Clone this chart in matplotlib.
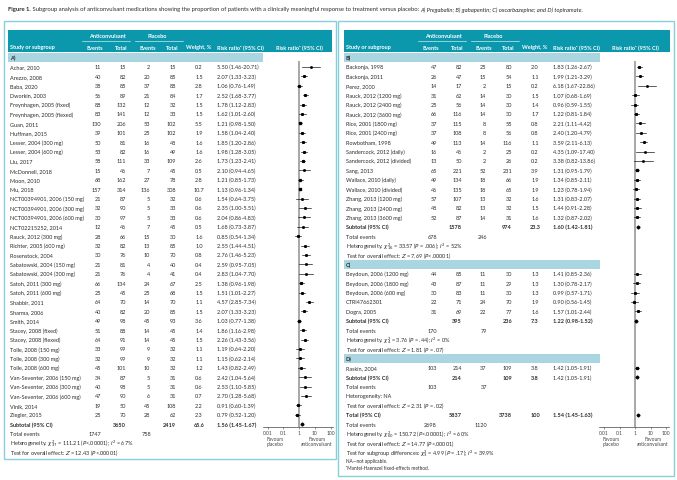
import matplotlib
matplotlib.use("Agg")
import matplotlib.pyplot as plt
from matplotlib.patches import Rectangle
from matplotlib.transforms import blended_transform_factory
import numpy as np

plt.rcParams['font.family'] = ['Lato', 'DejaVu Sans']
plt.rcParams['mathtext.fontset'] = 'dejavusans'

# ---------------- data ----------------
A_studies = ["Achar, 2010", "Arezzo, 2008", "Baba, 2020", "Dworkin, 2003",
             "Freynhagen, 2005 (fixed)", "Freynhagen, 2005 (flexed)", "Guan, 2011",
             "Huffman, 2015", "Lesser, 2004 (300 mg)", "Lesser, 2004 (600 mg)", "Liu, 2017",
             "McDonnell, 2018", "Moon, 2010", "Mu, 2018", "NCT00394901, 2006 (150 mg)",
             "NCT00394901, 2006 (300 mg)", "NCT00394901, 2006 (600 mg)", "NCT02215252, 2014",
             "Rauck, 2012 (300 mg)", "Richter, 2005 (600 mg)", "Rosenstock, 2004",
             "Sabatowski, 2004 (150 mg)", "Sabatowski, 2004 (300 mg)", "Satoh, 2011 (300 mg)",
             "Satoh, 2011 (600 mg)", "Shabbir, 2011", "Sharma, 2006", "Smith, 2014",
             "Stacey, 2008 (fixed)", "Stacey, 2008 (flexed)", "Tolle, 2008 (150 mg)",
             "Tolle, 2008 (300 mg)", "Tolle, 2008 (600 mg)", "Van-Seventer, 2006 (150 mg)",
             "Van-Seventer, 2006 (300 mg)", "Van-Seventer, 2006 (600 mg)", "Vinik, 2014",
             "Ziegler, 2015"]
A_ev_ac = [11, 40, 38, 56, 88, 83, 130, 39, 50, 53, 58, 15, 68, 157, 21, 32, 30, 12, 28, 32,
           30, 21, 21, 66, 25, 64, 40, 49, 51, 64, 33, 32, 45, 34, 40, 47, 19, 25]
A_tot_ac = [15, 82, 85, 89, 132, 141, 206, 101, 81, 82, 111, 46, 162, 314, 87, 90, 97, 46, 66, 82,
            76, 81, 76, 134, 45, 70, 82, 98, 88, 91, 99, 99, 101, 87, 98, 90, 50, 70]
A_ev_pl = [2, 20, 37, 21, 12, 12, 53, 25, 16, 16, 33, 7, 27, 136, 5, 5, 5, 7, 15, 13,
           10, 4, 4, 24, 25, 14, 20, 45, 14, 14, 9, 9, 10, 5, 5, 6, 45, 28]
A_tot_pl = [15, 85, 88, 84, 32, 33, 102, 102, 48, 49, 109, 45, 78, 308, 32, 33, 33, 45, 30, 85,
            70, 40, 41, 67, 68, 70, 85, 93, 45, 45, 32, 32, 32, 31, 31, 31, 108, 62]
A_weight = [0.2, 1.5, 2.8, 1.7, 1.5, 1.5, 5.5, 1.9, 1.6, 1.6, 2.6, 0.5, 2.8, 10.7, 0.6, 0.6, 0.6, 0.5, 1.6, 1.0,
            0.8, 0.4, 0.4, 2.5, 1.5, 1.1, 1.5, 3.6, 1.4, 1.5, 1.1, 1.1, 1.2, 0.6, 0.6, 0.7, 2.2, 2.3]
A_rr = [5.50, 2.07, 1.06, 2.52, 1.78, 1.62, 1.21, 1.58, 1.85, 1.98, 1.73, 2.10, 1.21, 1.13, 1.54, 2.35, 2.04, 1.68, 0.85, 2.55,
        2.76, 2.59, 2.83, 1.38, 1.51, 4.57, 2.07, 1.03, 1.86, 2.26, 1.19, 1.15, 1.43, 2.42, 2.53, 2.70, 0.91, 0.79]
A_lo = [1.46, 1.33, 0.76, 1.68, 1.12, 1.01, 0.98, 1.04, 1.20, 1.28, 1.23, 0.94, 0.85, 0.96, 0.64, 1.00, 0.86, 0.73, 0.54, 1.44,
        1.46, 0.95, 1.04, 0.96, 1.01, 2.85, 1.33, 0.77, 1.16, 1.43, 0.64, 0.62, 0.82, 1.04, 1.10, 1.28, 0.60, 0.52]
A_hi = [20.71, 3.23, 1.49, 3.77, 2.83, 2.60, 1.50, 2.40, 2.86, 3.05, 2.41, 4.65, 1.73, 1.34, 3.75, 5.51, 4.83, 3.87, 1.34, 4.51,
        5.23, 7.05, 7.70, 1.98, 2.27, 7.34, 3.23, 1.38, 2.98, 3.56, 2.20, 2.14, 2.49, 5.64, 5.85, 5.68, 1.39, 1.20]

B_studies = ["Backonja, 1998", "Backonja, 2011", "Perez, 2000", "Rauck, 2012 (1200 mg)",
             "Rauck, 2012 (2400 mg)", "Rauck, 2012 (3600 mg)", "Rice, 2001 (1800 mg)",
             "Rice, 2001 (2400 mg)", "Rowbotham, 1998", "Sandercock, 2012 (daily)",
             "Sandercock, 2012 (divided)", "Sang, 2013", "Wallace, 2010 (daily)",
             "Wallace, 2010 (divided)", "Zhang, 2013 (1200 mg)", "Zhang, 2013 (2400 mg)",
             "Zhang, 2013 (3600 mg)"]
B_ev_ac = [47, 26, 14, 31, 25, 66, 37, 37, 49, 16, 13, 65, 49, 46, 57, 48, 52]
B_tot_ac = [82, 47, 17, 62, 56, 116, 115, 108, 113, 46, 50, 221, 134, 135, 107, 82, 87]
B_ev_pl = [25, 15, 2, 14, 14, 14, 8, 8, 14, 2, 2, 52, 18, 18, 13, 13, 14]
B_tot_pl = [80, 54, 15, 30, 30, 30, 55, 56, 116, 25, 26, 231, 66, 65, 32, 32, 31]
B_weight = [2.0, 1.1, 0.2, 1.5, 1.4, 1.7, 0.8, 0.8, 1.1, 0.2, 0.2, 3.9, 1.9, 1.9, 1.6, 1.5, 1.6]
B_rr = [1.83, 1.99, 6.18, 1.07, 0.96, 1.22, 2.21, 2.40, 3.59, 4.35, 3.38, 1.31, 1.34, 1.23, 1.31, 1.44, 1.32]
B_lo = [1.26, 1.21, 1.67, 0.68, 0.59, 0.81, 1.11, 1.20, 2.11, 1.09, 0.82, 0.95, 0.85, 0.78, 0.83, 0.91, 0.87]
B_hi = [2.67, 3.29, 22.86, 1.69, 1.55, 1.84, 4.42, 4.79, 6.13, 17.40, 13.86, 1.79, 2.11, 1.94, 2.07, 2.28, 2.02]

C_studies = ["Beydoun, 2006 (1200 mg)", "Beydoun, 2006 (1800 mg)", "Beydoun, 2006 (600 mg)",
             "CTRI47662301", "Dogra, 2005"]
C_ev_ac = [44, 43, 30, 22, 31]
C_tot_ac = [85, 87, 83, 71, 69]
C_ev_pl = [11, 11, 11, 24, 22]
C_tot_pl = [30, 29, 30, 70, 77]
C_weight = [1.3, 1.3, 1.3, 1.9, 1.6]
C_rr = [1.41, 1.30, 0.99, 0.90, 1.57]
C_lo = [0.85, 0.78, 0.57, 0.56, 1.01]
C_hi = [2.36, 2.17, 1.71, 1.45, 2.44]

D_studies = ["Raskin, 2004"]
D_ev_ac = [103]
D_tot_ac = [214]
D_ev_pl = [37]
D_tot_pl = [109]
D_weight = [3.8]
D_rr = [1.42]
D_lo = [1.05]
D_hi = [1.91]

# subtotal: (tot_ac, tot_pl, weight, rr, lo, hi, events_ac, events_pl)
A_sub = [3650, 2419, 65.6, 1.56, 1.45, 1.67, 1747, 758]
B_sub = [1578, 974, 23.3, 1.60, 1.42, 1.81, 678, 246]
C_sub = [395, 236, 7.3, 1.22, 0.98, 1.52, 170, 79]
D_sub = [214, 109, 3.8, 1.42, 1.05, 1.91, 103, 37]
TOT = [5837, 3738, 100, 1.54, 1.45, 1.63, 2698, 1120]

A_het = r"Heterogeneity: $\chi^2_{37}$ = 111.21 ($P$<.00001); $I^2$ = 67%"
A_z = r"Test for overall effect: $Z$ = 12.43 ($P$<.00001)"
B_het = r"Heterogeneity: $\chi^2_{16}$ = 33.57 ($P$ = .006); $I^2$ = 52%"
B_z = r"Test for overall effect: $Z$ = 7.69 ($P$<.00001)"
C_het = r"Heterogeneity: $\chi^2_{4}$ = 3.76 ($P$ = .44); $I^2$ = 0%"
C_z = r"Test for overall effect: $Z$ = 1.81 ($P$ = .07)"
D_het = "Heterogeneity: NA"
D_z = r"Test for overall effect: $Z$ = 2.31 ($P$ = .02)"
T_het = r"Heterogeneity: $\chi^2_{60}$ = 150.72 ($P$<.00001); $I^2$ = 60%"
T_z = r"Test for overall effect: $Z$ = 14.77 ($P$<.00001)"
T_sub = r"Test for subgroup differences: $\chi^2_{3}$ = 4.99 ($P$ = .17); $I^2$ = 39.9%"

ticks = [0.01, 0.1, 1, 10, 100]
tick_labels = ["0.01", "0.1", "1", "10", "100"]

# ---------------- style ----------------
W, H = 677, 481
TEAL = "#0b98ad"
LIGHT = "#a9d6e1"
BORDER = "#86d0dc"
TXT = "#2b2b2b"
FS = 4.0
Y0 = 58.5
DY = 9.4

fig = plt.figure(figsize=(W / 100, H / 100), dpi=100)
bg = fig.add_axes([0, 0, 1, 1])
bg.set_xlim(0, W)
bg.set_ylim(H, 0)
bg.axis("off")


def ry(i):
    return Y0 + i * DY


def t(x, y, s, ha="left", bold=False, color=TXT, size=FS, italic=False):
    bg.text(x, y, s, ha=ha, va="center", fontsize=size, color=color,
            fontweight="bold" if bold else "normal",
            fontstyle="italic" if italic else "normal")


# title
fig.canvas.draw()
r = fig.canvas.get_renderer()
x = 8
for s, wgt, sty in [("Figure 1.", "bold", "normal"),
                    (" Subgroup analysis of anticonvulsant medications showing the proportion of patients with a clinically meaningful response to treatment versus placebo: ", "normal", "normal"),
                    ("A) Pregabalin; B) gabapentin; C) oxcarbazepine; and D) topiramate.", "normal", "italic")]:
    tt = bg.text(x, 10, s, ha="left", va="center", fontsize=4.2, fontweight=wgt, fontstyle=sty, color=TXT)
    bb = tt.get_window_extent(renderer=r)
    x += bb.width

# panel boxes
bg.add_patch(Rectangle((4, 22), 332, 438, fill=False, ec=BORDER, lw=1.0))
bg.add_patch(Rectangle((338, 22), 336, 455, fill=False, ec=BORDER, lw=1.0))


def header(off, right_edge, light_right):
    bg.add_patch(Rectangle((8 + off, 31), right_edge - 8 - off, 22, color=TEAL, lw=0))
    t(107 + off, 37, "Anticonvulsant", ha="center", bold=True, color="white")
    t(157 + off, 37, "Placebo", ha="center", bold=True, color="white")
    bg.plot([82 + off, 130 + off], [42, 42], color="white", lw=0.4)
    bg.plot([135 + off, 183 + off], [42, 42], color="white", lw=0.4)
    t(10 + off, 48, "Study or subgroup", bold=True, color="white")
    t(95 + off, 48, "Events", ha="center", bold=True, color="white")
    t(121 + off, 48, "Total", ha="center", bold=True, color="white")
    t(148 + off, 48, "Events", ha="center", bold=True, color="white")
    t(172 + off, 48, "Total", ha="center", bold=True, color="white")
    t(199 + off, 48, "Weight, %", ha="center", bold=True, color="white")
    t(217 + off, 48, "Risk ratio\u1d43 (95% CI)", bold=True, color="white")
    t(299 + off, 48, "Risk ratio\u1d43 (95% CI)", ha="center", bold=True, color="white")


def group_label(off, i, label, light_right):
    bg.add_patch(Rectangle((8 + off, ry(i) - 4.6), light_right - 8 - off, 9.2, color=LIGHT, lw=0))
    t(10 + off, ry(i), label, bold=True)


def study_rows(off, i0, names, eva, ta, evp, tp, wt, rr, lo, hi):
    for k in range(len(names)):
        y = ry(i0 + k)
        t(10 + off, y, names[k])
        t(101 + off, y, str(eva[k]), ha="right")
        t(126 + off, y, str(ta[k]), ha="right")
        t(150 + off, y, str(evp[k]), ha="right")
        t(176 + off, y, str(tp[k]), ha="right")
        t(199 + off, y, f"{wt[k]:.1f}", ha="center")
        t(217 + off, y, f"{rr[k]:.2f} ({lo[k]:.2f}-{hi[k]:.2f})")


def sub_rows(off, i, sub, het, z, label="Subtotal (95% CI)", rr_bold=True):
    y = ry(i)
    t(10 + off, y, label, bold=True)
    t(126 + off, y, str(sub[0]), ha="right", bold=True)
    t(176 + off, y, str(sub[1]), ha="right", bold=True)
    wtxt = f"{sub[2]:.1f}" if sub[2] != 100 else "100"
    t(199 + off, y, wtxt, ha="center", bold=True)
    t(217 + off, y, f"{sub[3]:.2f} ({sub[4]:.2f}-{sub[5]:.2f})", bold=rr_bold)
    t(10 + off, ry(i + 1), "Total events")
    t(101 + off, ry(i + 1), str(sub[6]), ha="right")
    t(151 + off, ry(i + 1), str(sub[7]), ha="right")
    t(10 + off, ry(i + 2), het)
    t(10 + off, ry(i + 3), z)


# ----- left panel (A) -----
OFF_L = 0
header(OFF_L, 332, 263)
group_label(OFF_L, 0, "A)", 263)
study_rows(OFF_L, 1, A_studies, A_ev_ac, A_tot_ac, A_ev_pl, A_tot_pl, A_weight, A_rr, A_lo, A_hi)
sub_rows(OFF_L, 39, A_sub, A_het, A_z)

# ----- right panel (B, C, D, total) -----
OFF_R = 336
header(OFF_R, 670, 600)
group_label(OFF_R, 0, "B)", 600)
study_rows(OFF_R, 1, B_studies, B_ev_ac, B_tot_ac, B_ev_pl, B_tot_pl, B_weight, B_rr, B_lo, B_hi)
sub_rows(OFF_R, 18, B_sub, B_het, B_z)
group_label(OFF_R, 22, "C)", 600)
study_rows(OFF_R, 23, C_studies, C_ev_ac, C_tot_ac, C_ev_pl, C_tot_pl, C_weight, C_rr, C_lo, C_hi)
sub_rows(OFF_R, 28, C_sub, C_het, C_z)
group_label(OFF_R, 32, "D)", 600)
study_rows(OFF_R, 33, D_studies, D_ev_ac, D_tot_ac, D_ev_pl, D_tot_pl, D_weight, D_rr, D_lo, D_hi)
sub_rows(OFF_R, 34, D_sub, D_het, D_z, rr_bold=False)
sub_rows(OFF_R, 38, TOT, T_het, T_z, label="Total (95% CI)")
t(10 + OFF_R, ry(42), T_sub)
t(10 + OFF_R, 461.5, "NA\u2014not applicable.", size=3.4)
t(10 + OFF_R, 468.5, "\u1d43Mantel-Haenszel fixed-effects method.", size=3.4)


# ----- forest plots -----
def forest(px_one, px_per_dec, rows_groups, subs):
    left_px, right_px = px_one - 36, px_one + 34
    top_px, bot_px = 62, 428
    ax = fig.add_axes([left_px / W, 1 - bot_px / H, (right_px - left_px) / W, (bot_px - top_px) / H])
    ax.set_xscale("log")
    ax.set_xlim(10 ** (-36 / px_per_dec), 10 ** (34 / px_per_dec))
    ax.set_ylim((bot_px - Y0) / DY, (top_px - Y0) / DY)
    ax.patch.set_alpha(0)
    for sp in ["top", "left", "right"]:
        ax.spines[sp].set_visible(False)
    ax.spines["bottom"].set_linewidth(0.5)
    ax.spines["bottom"].set_color("#444444")
    ax.set_yticks([])
    ax.set_xticks(ticks)
    ax.set_xticklabels(tick_labels)
    ax.xaxis.set_minor_locator(matplotlib.ticker.NullLocator())
    ax.tick_params(axis="x", labelsize=3.6, length=1.5, width=0.4, pad=1, colors="#444444")
    ax.axvline(1, color="#a0a0a0", lw=1.3, zorder=0)
    for i0, rr, lo, hi, wt in rows_groups:
        ys = np.arange(i0, i0 + len(rr))
        for y, a, b in zip(ys, lo, hi):
            ax.plot([a, b], [y, y], color="black", lw=0.45, clip_on=False)
        for y, v, w in zip(ys, rr, wt):
            ax.plot(v, y, marker="s", ms=0.8 + 0.3 * np.sqrt(w), color="black", clip_on=False)
    for i, sub in subs:
        ax.plot(sub[3], i, marker="D", ms=1.5, color="black", clip_on=False)
    tr = blended_transform_factory(ax.transData, ax.transAxes)
    ax.text(0.03, -0.025, "Favours\nplacebo", transform=tr, ha="center", va="top",
            fontsize=3.5, color="#444444", linespacing=0.9)
    ax.text(14, -0.025, "Favours\nanticonvulsant", transform=tr, ha="center", va="top",
            fontsize=3.5, color="#444444", linespacing=0.9)
    return ax


forest(299, 15.75, [(1, A_rr, A_lo, A_hi, A_weight)], [(39, A_sub)])
forest(635, 15.5,
       [(1, B_rr, B_lo, B_hi, B_weight), (23, C_rr, C_lo, C_hi, C_weight), (33, D_rr, D_lo, D_hi, D_weight)],
       [(18, B_sub), (28, C_sub), (34, D_sub), (38, TOT)])

fig.savefig("out.png", dpi=100)
